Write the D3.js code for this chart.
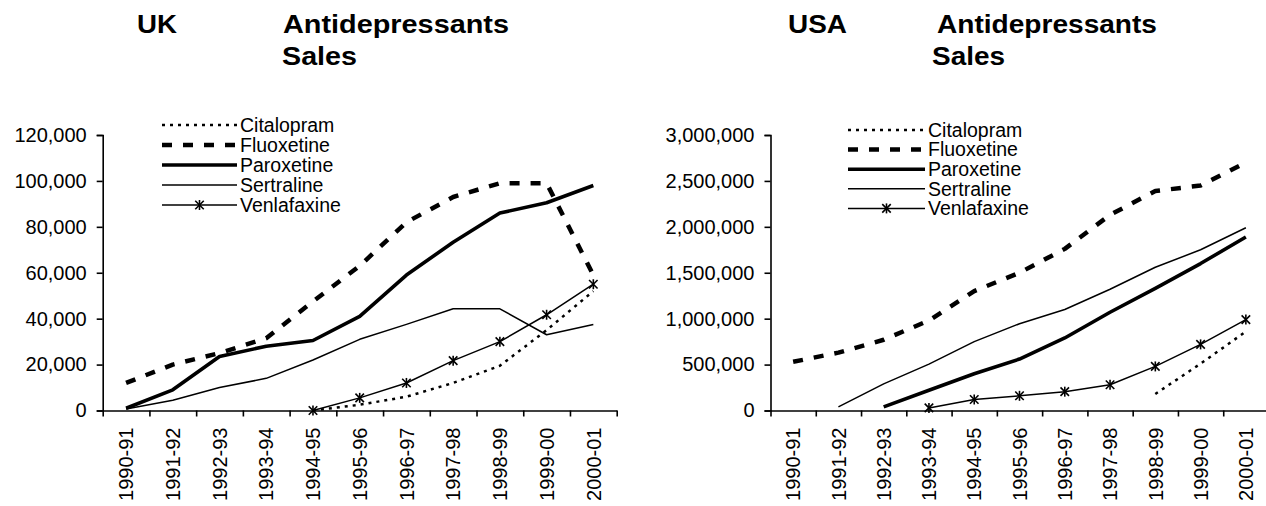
<!DOCTYPE html>
<html>
<head>
<meta charset="utf-8">
<script src="https://cdn.jsdelivr.net/npm/d3@7"></script>
<style>
  html, body { margin: 0; padding: 0; background: #fff; }
  svg { display: block; }
  text { font-family: "Liberation Sans", Arial, sans-serif; fill: #000; }
</style>
</head>
<body>
<svg id="chart" width="1266" height="506"></svg>
<script>
// Financial years on the category axis
const years = ["1990-91","1991-92","1992-93","1993-94","1994-95","1995-96",
               "1996-97","1997-98","1998-99","1999-00","2000-01"];

const drugs = ["Citalopram","Fluoxetine","Paroxetine","Sertraline","Venlafaxine"];

// UK sales (null = not yet on the market)
const ukCitalopram  = [null, null, null, null, 0, 2500, 6000, 12000, 19500, 35000, 52000];
const ukFluoxetine  = [12000, 20000, 25000, 31500, 47500, 63000, 82000, 93000, 99000, 99000, 59000];
const ukParoxetine  = [1000, 9000, 23500, 28000, 30500, 41000, 59000, 73300, 86000, 90500, 98000];
const ukSertraline  = [700, 4500, 10000, 14000, 22000, 31000, 37500, 44300, 44300, 33000, 37500];
const ukVenlafaxine = [null, null, null, null, 0, 5500, 12000, 21700, 30000, 41700, 55000];

// USA sales
const usCitalopram  = [null, null, null, null, null, null, null, null, 180000, 510000, 860000];
const usFluoxetine  = [530000, 630000, 770000, 980000, 1300000, 1500000, 1760000, 2130000, 2390000, 2450000, 2700000];
const usParoxetine  = [null, null, 40000, 220000, 400000, 560000, 790000, 1070000, 1330000, 1600000, 1890000];
const usSertraline  = [null, 40000, 290000, 505000, 750000, 945000, 1100000, 1320000, 1560000, 1750000, 1990000];
const usVenlafaxine = [null, null, null, 28000, 120000, 160000, 205000, 280000, 480000, 720000, 990000];

// Axis tick values
const ukTicks = [0, 20000, 40000, 60000, 80000, 100000, 120000];
const usTicks = [0, 500000, 1000000, 1500000, 2000000, 2500000, 3000000];

// Line styles per drug
const styles = {
  Citalopram:  { width: 2.5, dash: "3,5",  marker: false },
  Fluoxetine:  { width: 4.5, dash: "10,11", marker: false },
  Paroxetine:  { width: 3.6, dash: null,   marker: false },
  Sertraline:  { width: 1.5, dash: null,   marker: false },
  Venlafaxine: { width: 1.5, dash: null,   marker: true }
};

const svg = d3.select("#chart");
const fmt = d3.format(",");

function asterisk(g, cx, cy, r) {
  const a = g.append("g").attr("transform", `translate(${cx},${cy})`)
    .attr("stroke", "#000").attr("stroke-width", 1.6);
  a.append("line").attr("x1", 0).attr("y1", -r).attr("x2", 0).attr("y2", r);
  a.append("line").attr("x1", -r * 0.85).attr("y1", -r * 0.85).attr("x2", r * 0.85).attr("y2", r * 0.85);
  a.append("line").attr("x1", -r * 0.85).attr("y1", r * 0.85).attr("x2", r * 0.85).attr("y2", -r * 0.85);
}

function stretchText(sel, width) {
  sel.each(function () {
    this.setAttribute("textLength", width);
    this.setAttribute("lengthAdjust", "spacingAndGlyphs");
  });
}

function drawChart(cfg) {
  const g = svg.append("g");

  const x = d3.scaleBand().domain(years).range([cfg.x0, cfg.x1]).paddingInner(0).paddingOuter(0);
  const xEdge = d3.scaleLinear().domain([0, years.length]).range([cfg.x0, cfg.x1]);
  const y = d3.scaleLinear().domain([0, cfg.ymax]).range([cfg.y0, cfg.y1]);

  // Title
  cfg.title.forEach(t => {
    const tx = g.append("text").attr("x", t.x).attr("y", t.y)
      .attr("font-size", 26).attr("font-weight", "bold").text(t.text);
    stretchText(tx, t.w);
  });

  // Y axis
  const ya = g.append("g").attr("transform", `translate(${cfg.x0},0)`)
    .call(d3.axisLeft(y).tickValues(cfg.ticks).tickFormat(fmt).tickSize(6).tickPadding(10));
  ya.select(".domain").attr("stroke", "#000").attr("stroke-width", 1.6);
  ya.selectAll(".tick line").attr("stroke", "#000").attr("stroke-width", 1.6);
  ya.selectAll(".tick text").attr("font-size", 20).attr("font-family", "Liberation Sans, Arial, sans-serif");

  // X axis: tick marks at category boundaries
  const xa = g.append("g").attr("transform", `translate(0,${cfg.y0})`)
    .call(d3.axisBottom(xEdge).tickValues(d3.range(years.length + 1)).tickFormat("").tickSize(6).tickSizeOuter(0));
  xa.select(".domain").attr("stroke", "#000").attr("stroke-width", 1.6);
  xa.selectAll(".tick line").attr("stroke", "#000").attr("stroke-width", 1.6);

  // X axis: rotated labels at category centres
  const xl = g.append("g").attr("transform", `translate(0,${cfg.y0})`)
    .call(d3.axisBottom(x).tickSize(0));
  xl.select(".domain").remove();
  xl.selectAll(".tick text")
    .attr("font-size", 20).attr("font-family", "Liberation Sans, Arial, sans-serif")
    .attr("transform", "rotate(-90)")
    .attr("text-anchor", "end")
    .attr("x", -17).attr("y", 0).attr("dy", "0.36em");

  // Series lines
  const cx = (i) => x(years[i]) + x.bandwidth() / 2;
  drugs.forEach(name => {
    const vals = cfg.series[name];
    const st = styles[name];
    const line = d3.line()
      .defined(d => d.v != null)
      .x(d => cx(d.i)).y(d => y(d.v));
    const pts = vals.map((v, i) => ({ i, v }));
    g.append("path").datum(pts)
      .attr("d", line)
      .attr("fill", "none").attr("stroke", "#000")
      .attr("stroke-width", st.width)
      .attr("stroke-linejoin", "round")
      .attr("stroke-dasharray", st.dash);
    if (st.marker) {
      pts.filter(d => d.v != null).forEach(d => asterisk(g, cx(d.i), y(d.v), 5));
    }
  });

  // Legend
  const lg = g.append("g");
  drugs.forEach((name, k) => {
    const ly = cfg.legend.y + k * cfg.legend.dy;
    const st = styles[name];
    lg.append("line")
      .attr("x1", cfg.legend.x0).attr("x2", cfg.legend.x1)
      .attr("y1", ly).attr("y2", ly)
      .attr("stroke", "#000").attr("stroke-width", st.width)
      .attr("stroke-dasharray", st.dash);
    if (st.marker) asterisk(lg, (cfg.legend.x0 + cfg.legend.x1) / 2, ly, 5);
    lg.append("text").attr("x", cfg.legend.x1 + 3).attr("y", ly)
      .attr("dy", "0.35em").attr("font-size", 19.5).text(name);
  });
}

drawChart({
  x0: 102.7, x1: 616.7, y0: 410.5, y1: 135, ymax: 120000, ticks: ukTicks,
  title: [
    { text: "UK", x: 137, y: 33, w: 40 },
    { text: "Antidepressants", x: 283, y: 33, w: 226 },
    { text: "Sales", x: 282, y: 65, w: 75 }
  ],
  legend: { x0: 162, x1: 237, y: 125, dy: 20 },
  series: {
    Citalopram: ukCitalopram, Fluoxetine: ukFluoxetine, Paroxetine: ukParoxetine,
    Sertraline: ukSertraline, Venlafaxine: ukVenlafaxine
  }
});

drawChart({
  x0: 770.5, x1: 1268.5, y0: 410.5, y1: 135, ymax: 3000000, ticks: usTicks,
  title: [
    { text: "USA", x: 788, y: 33, w: 59 },
    { text: "Antidepressants", x: 937, y: 33, w: 220 },
    { text: "Sales", x: 932, y: 65, w: 73 }
  ],
  legend: { x0: 848, x1: 925, y: 130, dy: 19.6 },
  series: {
    Citalopram: usCitalopram, Fluoxetine: usFluoxetine, Paroxetine: usParoxetine,
    Sertraline: usSertraline, Venlafaxine: usVenlafaxine
  }
});
</script>
</body>
</html>
